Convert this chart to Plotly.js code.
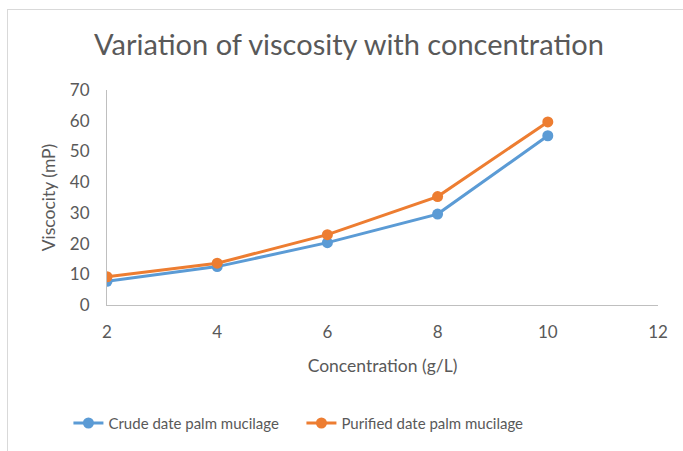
<!DOCTYPE html>
<html>
<head>
<meta charset="utf-8">
<script src="https://cdn.plot.ly/plotly-3.0.1.min.js"></script>
<style>
html,body{margin:0;padding:0;background:#fff;}
#wrap{position:relative;width:683px;height:451px;overflow:hidden;}
#frame{position:absolute;left:7px;top:9px;width:700px;height:460px;border:1px solid #d9d9d9;box-sizing:border-box;pointer-events:none;}
#chart{position:absolute;left:0;top:0;width:683px;height:451px;}
</style>
</head>
<body>
<div id="wrap"><div id="chart"></div><div id="frame"></div></div>
<script>
var concentration = [2, 4, 6, 8, 10];
var crude = [7.7, 12.5, 20.3, 29.6, 55.1];
var purified = [9.2, 13.6, 22.9, 35.3, 59.6];
var seriesNames = ["Crude date palm mucilage", "Purified date palm mucilage"];
var xTicks = [2, 4, 6, 8, 10, 12];
var yTicks = [0, 10, 20, 30, 40, 50, 60, 70];

var fontFam = "Lato, 'Open Sans', sans-serif";
var txt = "#595959";

var traces = [
  {x: concentration, y: crude, name: seriesNames[0], type: "scatter", mode: "lines+markers",
   line: {color: "#5b9bd5", width: 3}, marker: {color: "#5b9bd5", size: 11}},
  {x: concentration, y: purified, name: seriesNames[1], type: "scatter", mode: "lines+markers",
   line: {color: "#ed7d31", width: 3}, marker: {color: "#ed7d31", size: 11}}
];

var layout = {
  width: 683, height: 451,
  margin: {l: 107, r: 25, t: 90, b: 143},
  paper_bgcolor: "rgba(0,0,0,0)", plot_bgcolor: "#fff",
  font: {family: fontFam, color: txt, size: 17},
  title: {text: "Variation of viscosity with concentration", font: {size: 29, color: txt, family: fontFam},
          x: 0.511, xanchor: "center", y: 0.9, yanchor: "middle", yref: "container"},
  xaxis: {range: [2, 12], tickvals: xTicks, ticktext: xTicks.map(String), showgrid: false, zeroline: false,
          showline: true, linecolor: "#bfbfbf", linewidth: 1, ticks: "outside", ticklen: 12, tickcolor: "rgba(0,0,0,0)",
          tickfont: {size: 17, color: txt},
          title: {text: "Concentration (g/L)", font: {size: 17.5, color: txt}, standoff: 18}},
  yaxis: {range: [0, 70], tickvals: yTicks, ticktext: yTicks.map(String), showgrid: false, zeroline: false,
          showline: true, linecolor: "#bfbfbf", linewidth: 1, ticks: "outside", ticklen: 13, tickcolor: "rgba(0,0,0,0)",
          tickfont: {size: 17, color: txt},
          title: {text: "Viscocity (mP)", font: {size: 17.5, color: txt}, standoff: 9}},
  showlegend: true,
  legend: {orientation: "h", x: -0.07, xanchor: "left", y: -0.55, yanchor: "middle",
           font: {size: 15, color: txt}, bgcolor: "rgba(0,0,0,0)", itemwidth: 30,
           entrywidth: 188, entrywidthmode: "pixels"}
};

Plotly.newPlot("chart", traces, layout, {displayModeBar: false, staticPlot: true});
</script>
</body>
</html>
